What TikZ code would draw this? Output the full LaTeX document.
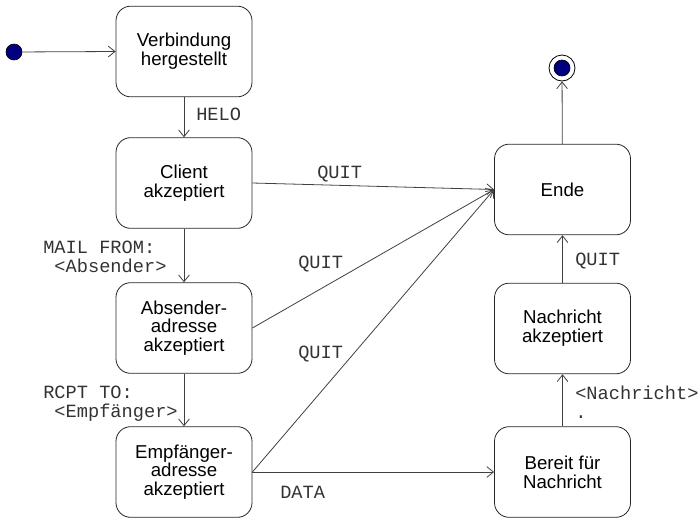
\documentclass[tikz,border=0pt]{standalone}
\usepackage{fontspec}
\setmainfont{Liberation Sans}
\setmonofont{Liberation Mono}
\usetikzlibrary{arrows.meta}
\definecolor{dotblue}{RGB}{0,0,128}
\begin{document}
\begin{tikzpicture}[x=0.75pt,y=-0.75pt,
  state/.style={draw=black!85, rounded corners=11pt, minimum width=102pt,
    minimum height=68pt, align=center, inner sep=2pt,
    font=\fontsize{14}{14}\selectfont, line width=0.6pt},
  trans/.style={draw=black!75, line width=0.6pt,
    -{Straight Barb[length=5pt,width=8pt]}},
  cmd/.style={font=\ttfamily\fontsize{14}{13.8}\selectfont, text=black!80,
    inner sep=0pt, align=left},
  startdot/.style={circle, fill=dotblue, draw=black, line width=0.5pt,
    minimum size=12pt, inner sep=0pt},
  enddot/.style={circle, fill=white, draw=black, line width=0.6pt,
    minimum size=19.5pt, inner sep=0pt},
]
\useasboundingbox (0,0) rectangle (699,518);

% states
\node[state] (ver) at (184,51.5) {Verbindung\\hergestellt};
\node[state] (cli) at (184,183) {Client\\akzeptiert};
\node[state] (abs) at (184,328) {Absender-\\adresse\\akzeptiert};
\node[state] (emp) at (184,472) {Empfänger-\\adresse\\akzeptiert};
\node[state] (ende) at (562.5,189.5) {Ende};
\node[state] (nak) at (562.5,328.5) {Nachricht\\akzeptiert};
\node[state] (ber) at (562.5,472) {Bereit für\\Nachricht};

% initial and final pseudo-states
\node[startdot] (init) at (14,52) {};
\node[enddot] (fin) at (562,68) {};
\node[circle, fill=dotblue, draw=black, line width=0.5pt, minimum size=12pt,
  inner sep=0pt] (finin) at (fin.center) {};

% transitions
\draw[trans] (init) -- (ver.west);
\draw[trans] (ver) -- (cli);
\draw[trans] (cli) -- (abs);
\draw[trans] (abs) -- (emp);
\draw[trans] (cli.east) -- (ende.west);
\draw[trans] (abs.east) -- (ende.west);
\draw[trans] (emp.east) -- (ende.west);
\draw[trans] (emp.east) -- (ber.west);
\draw[trans] (ber) -- (nak);
\draw[trans] (nak) -- (ende);
\draw[trans] (ende) -- (fin);

% transition labels
\node[cmd, anchor=base west] (lhelo) at (196,120) {HELO};
\node[cmd, anchor=north west] (lmail) at (43,241) {MAIL FROM:\\\hphantom{x}<Absender>};
\node[cmd, anchor=north west] (lrcpt) at (43,386) {RCPT TO:\\\hphantom{x}<Empfänger>};
\node[cmd, anchor=base west] (lq1) at (317,178) {QUIT};
\node[cmd, anchor=base west] (lq2) at (298,268) {QUIT};
\node[cmd, anchor=base west] (lq3) at (298,358) {QUIT};
\node[cmd, anchor=base west] (ldata) at (280,498) {DATA};
\node[cmd, anchor=base west] (lq4) at (575,265) {QUIT};
\node[cmd, anchor=north west] (lmsg) at (575,386) {<Nachricht>\\.};
\end{tikzpicture}
\end{document}
